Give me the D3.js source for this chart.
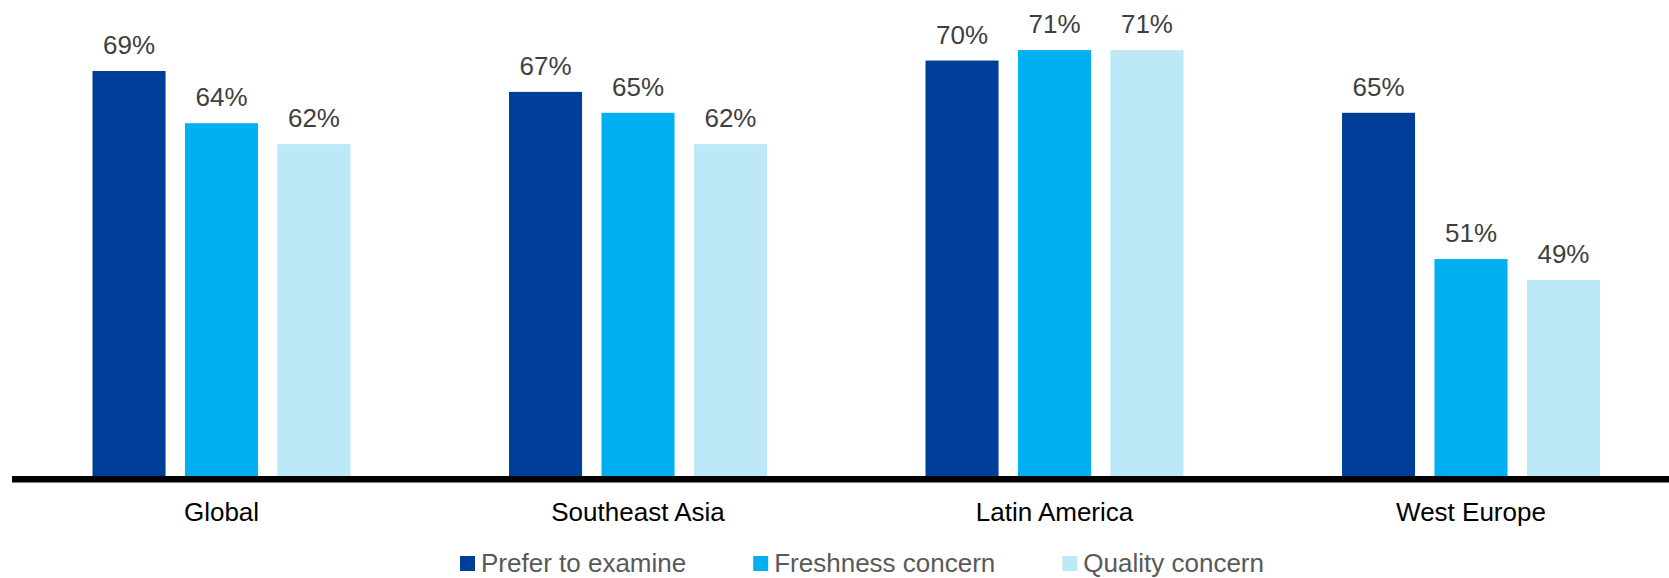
<!DOCTYPE html>
<html>
<head>
    <meta charset="utf-8">
    <title></title>
    <script src="https://d3js.org/d3.v7.min.js"></script>
    <style>
        html, body { margin: 0; padding: 0; background: white; }
        svg { display: block; font-family: "Liberation Sans", Arial, sans-serif; }
    </style>
</head>
<body>
    <div id="chart"></div>
    <script>
        // data
        const regions = ["Global", "Southeast Asia", "Latin America", "West Europe"];
        const seriesNames = ["Prefer to examine", "Freshness concern", "Quality concern"];
        const preferToExamine = [69, 67, 70, 65];
        const freshnessConcern = [64, 65, 71, 51];
        const qualityConcern = [62, 62, 71, 49];
        const seriesColors = ["#003f99", "#00b0f0", "#bde8f8"];

        const seriesValues = [preferToExamine, freshnessConcern, qualityConcern];
        const dataset = [];
        regions.forEach((r, i) => {
            seriesNames.forEach((s, j) => {
                dataset.push({ region: r, series: s, value: seriesValues[j][i], color: seriesColors[j] });
            });
        });

        const width = 1669, height = 578;

        const canvas = d3.select("#chart")
            .append("svg")
            .attr("width", width)
            .attr("height", height);

        // scales: axis starts at 30%, baseline sits near y=479
        const x = d3.scaleBand()
            .domain(regions)
            .range([13.25, 1679.25])
            .padding(0);

        const xInner = d3.scaleBand()
            .domain(seriesNames)
            .range([-129, 129])
            .paddingInner(0.21);

        const y = d3.scaleLinear()
            .domain([30, 75])
            .range([478.5, 8.3]);

        const center = d => x(d.region) + x.bandwidth() / 2;

        // bars
        canvas.selectAll("rect.bar")
            .data(dataset)
            .enter()
            .append("rect")
            .attr("class", "bar")
            .attr("x", d => center(d) + xInner(d.series))
            .attr("y", d => y(d.value))
            .attr("width", xInner.bandwidth())
            .attr("height", d => y(30) - y(d.value))
            .attr("fill", d => d.color);

        // value labels
        canvas.selectAll("text.val")
            .data(dataset)
            .enter()
            .append("text")
            .attr("class", "val")
            .attr("x", d => center(d) + xInner(d.series) + xInner.bandwidth() / 2)
            .attr("y", d => y(d.value) - 17)
            .attr("text-anchor", "middle")
            .style("font-size", "26px")
            .style("fill", "#404040")
            .text(d => d.value + "%");

        // baseline (thick black axis line)
        canvas.append("line")
            .attr("x1", 12)
            .attr("x2", width)
            .attr("y1", y(30) + 0.8)
            .attr("y2", y(30) + 0.8)
            .attr("stroke", "black")
            .attr("stroke-width", 6.5);

        // category labels
        canvas.selectAll("text.cat")
            .data(regions)
            .enter()
            .append("text")
            .attr("class", "cat")
            .attr("x", d => x(d) + x.bandwidth() / 2)
            .attr("y", 521)
            .attr("text-anchor", "middle")
            .style("font-size", "26px")
            .style("fill", "#000")
            .text(d => d);

        // legend
        const legend = canvas.append("g");
        let lx = 460;
        seriesNames.forEach((s, i) => {
            legend.append("rect")
                .attr("x", lx)
                .attr("y", 556)
                .attr("width", 15)
                .attr("height", 15)
                .attr("fill", seriesColors[i]);
            const t = legend.append("text")
                .attr("x", lx + 21)
                .attr("y", 572)
                .style("font-size", "26px")
                .style("fill", "#595959")
                .text(s);
            lx += 21 + t.node().getComputedTextLength() + 67;
        });
    </script>
</body>
</html>
